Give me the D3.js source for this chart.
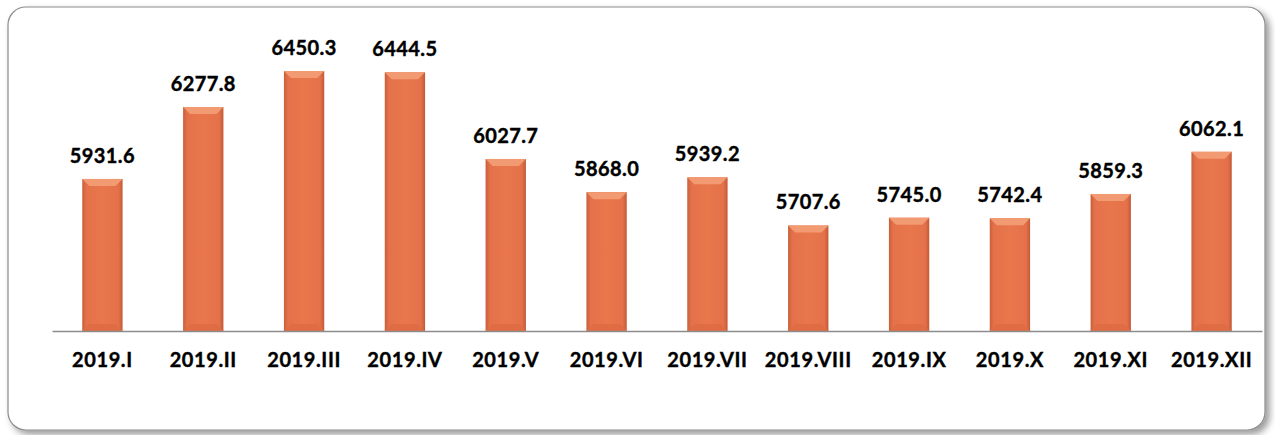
<!DOCTYPE html>
<html>
<head>
<meta charset="utf-8">
<script src="https://cdn.jsdelivr.net/npm/d3@7"></script>
<style>
  body { margin: 0; background: #fff; }
  svg { display: block; }
</style>
</head>
<body>
<div id="chart"></div>
<script>
// monthly data
const months = ["2019.I", "2019.II", "2019.III", "2019.IV", "2019.V", "2019.VI",
                "2019.VII", "2019.VIII", "2019.IX", "2019.X", "2019.XI", "2019.XII"];
const values = [5931.6, 6277.8, 6450.3, 6444.5, 6027.7, 5868.0,
                5939.2, 5707.6, 5745.0, 5742.4, 5859.3, 6062.1];
const yDomain = [5200, 6600];

const W = 1275, H = 435;
const plot = {left: 52, right: 1262, top: 40, base: 331};

const svg = d3.select("#chart").append("svg")
    .attr("width", W).attr("height", H);

const defs = svg.append("defs");

// soft shadow for the frame
const sh = defs.append("filter").attr("id", "shadow")
    .attr("x", "-5%").attr("y", "-5%").attr("width", "110%").attr("height", "115%");
sh.append("feDropShadow").attr("dx", 4).attr("dy", 4).attr("stdDeviation", 3.5)
    .attr("flood-color", "#000").attr("flood-opacity", 0.4);

// bar body gradient, darker at the sides
const g1 = defs.append("linearGradient").attr("id", "barGrad")
    .attr("x1", 0).attr("x2", 1).attr("y1", 0).attr("y2", 0);
[[0, "#c7603a"], [0.1, "#e4714a"], [0.5, "#e9774c"], [0.9, "#e4714a"], [1, "#c25a35"]]
    .forEach(s => g1.append("stop").attr("offset", s[0]).attr("stop-color", s[1]));

// frame
svg.append("rect")
    .attr("x", 8).attr("y", 7)
    .attr("width", 1257).attr("height", 423)
    .attr("rx", 18).attr("ry", 18)
    .attr("fill", "#fff")
    .attr("stroke", "#8c8c8c")
    .attr("stroke-width", 1.2)
    .attr("filter", "url(#shadow)");

const x = d3.scaleBand()
    .domain(months)
    .range([plot.left, plot.right])
    .paddingInner(0.6).paddingOuter(0.3);

const y = d3.scaleLinear().domain(yDomain).range([plot.base, plot.top]);

const data = months.map((m, i) => ({month: m, value: values[i]}));

const bars = svg.append("g").selectAll("g.bar")
    .data(data).join("g").attr("class", "bar");

bars.append("rect")
    .attr("x", d => x(d.month))
    .attr("y", d => y(d.value))
    .attr("width", x.bandwidth())
    .attr("height", d => plot.base - y(d.value))
    .attr("fill", "url(#barGrad)");

// top bevel (lighter trapezoid)
const bev = 7;
bars.append("path")
    .attr("d", d => {
        const x0 = x(d.month), x1 = x0 + x.bandwidth(), t = y(d.value);
        return `M${x0},${t}L${x1},${t}L${x1 - bev},${t + bev}L${x0 + bev},${t + bev}Z`;
    })
    .attr("fill", "#f29a72");

// bottom bevel (slightly darker)
bars.append("path")
    .attr("d", d => {
        const x0 = x(d.month), x1 = x0 + x.bandwidth(), b = plot.base;
        return `M${x0},${b}L${x1},${b}L${x1 - bev},${b - bev}L${x0 + bev},${b - bev}Z`;
    })
    .attr("fill", "#e06c44");

// value labels
bars.append("text")
    .attr("x", d => x(d.month) + x.bandwidth() / 2)
    .attr("y", d => y(d.value) - 16)
    .attr("text-anchor", "middle")
    .attr("font-family", "Lato, sans-serif")
    .attr("font-weight", "bold")
    .attr("font-size", "20px")
    .attr("letter-spacing", "0.4px")
    .attr("stroke", "#000").attr("stroke-width", 0.4)
    .attr("fill", "#000")
    .text(d => d.value.toFixed(1));

// category axis
const axis = svg.append("g")
    .attr("transform", "translate(0," + plot.base + ")")
    .call(d3.axisBottom(x).tickSize(0).tickPadding(22));
axis.select(".domain").attr("stroke", "#8c8c8c").attr("stroke-width", 1.5);
axis.selectAll("text")
    .attr("font-family", "Lato, sans-serif")
    .attr("font-weight", "bold")
    .attr("font-size", "20px")
    .attr("letter-spacing", "0.6px")
    .attr("stroke", "#000").attr("stroke-width", 0.4)
    .attr("fill", "#000");
</script>
</body>
</html>
